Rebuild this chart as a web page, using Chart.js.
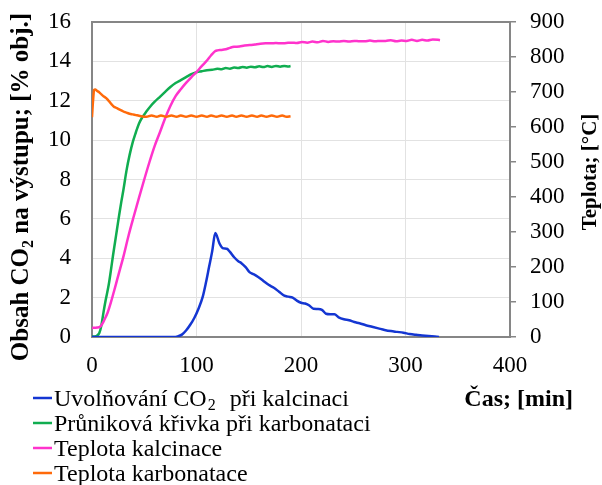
<!DOCTYPE html>
<html>
<head>
<meta charset="utf-8">
<script src="https://cdn.jsdelivr.net/npm/chart.js@4.4.1/dist/chart.umd.min.js"></script>
<style>
  html, body { margin: 0; padding: 0; background: #fff; }
  #wrap { width: 602px; height: 485px; position: relative; }
</style>
</head>
<body>
<div id="wrap"><canvas id="graf" width="602" height="485"></canvas></div>
<script>
// osy
const xTicks = [0, 100, 200, 300, 400];
const yTicks = [0, 2, 4, 6, 8, 10, 12, 14, 16];
const y1Ticks = [0, 100, 200, 300, 400, 500, 600, 700, 800, 900];

// Uvolňování CO2 při kalcinaci [% obj.]
const co2Time = [0, 78, 82, 86, 90, 94, 98, 102, 106, 109, 112, 115, 118, 122, 125, 129, 132, 136, 140, 143, 147, 151, 155, 159, 164, 169, 174, 179, 184, 188, 192, 196, 200, 204, 208, 212, 216, 220, 224, 228, 232, 236, 241, 246, 251, 256, 262, 268, 274, 280, 286, 292, 298, 304, 310, 316, 322, 328, 332];
const co2Values = [0, 0, 0.03, 0.12, 0.33, 0.62, 0.98, 1.45, 2.05, 2.75, 3.55, 4.35, 5.28, 4.75, 4.52, 4.48, 4.32, 4.05, 3.85, 3.75, 3.55, 3.28, 3.18, 3.05, 2.85, 2.65, 2.5, 2.3, 2.1, 2.05, 2.0, 1.85, 1.74, 1.7, 1.6, 1.43, 1.42, 1.38, 1.18, 1.15, 1.15, 1.0, 0.9, 0.85, 0.76, 0.7, 0.6, 0.52, 0.44, 0.36, 0.3, 0.26, 0.22, 0.15, 0.11, 0.08, 0.05, 0.02, 0];

// Průniková křivka při karbonataci [% obj.]
const breakTime = [0, 3, 5, 7, 9, 11, 13, 16, 18, 20, 22, 24, 26, 28, 30, 33, 36, 39, 42, 45, 48, 52, 56, 60, 65, 70, 75, 80, 85, 90, 95, 100, 105, 110, 115, 120, 124, 128, 132, 136, 140, 144, 148, 152, 156, 160, 164, 168, 172, 176, 180, 184, 188, 190];
const breakValues = [0.02, 0.03, 0.08, 0.2, 0.6, 1.25, 1.85, 2.65, 3.35, 4.1, 4.8, 5.5, 6.2, 6.85, 7.45, 8.45, 9.25, 9.9, 10.4, 10.85, 11.15, 11.45, 11.72, 11.95, 12.2, 12.45, 12.7, 12.9, 13.05, 13.2, 13.35, 13.45, 13.5, 13.55, 13.57, 13.62, 13.6, 13.66, 13.63, 13.69, 13.66, 13.72, 13.68, 13.73, 13.7, 13.75, 13.71, 13.76, 13.72, 13.77, 13.73, 13.77, 13.74, 13.76];

// Teplota kalcinace [°C]
const calcTempTime = [0, 5, 8, 10, 12, 15, 18, 21, 24, 27, 30, 35, 40, 45, 50, 55, 60, 65, 70, 75, 80, 85, 90, 95, 100, 105, 110, 114, 118, 120, 124, 128, 132, 136, 141, 146, 151, 156, 161, 166, 171, 176, 181, 186, 191, 196, 201, 206, 211, 216, 221, 226, 231, 236, 241, 246, 251, 256, 261, 266, 271, 276, 281, 286, 291, 296, 301, 306, 311, 316, 321, 326, 331, 333];
const calcTempValues = [26, 27, 30, 38, 50, 70, 98, 130, 163, 196, 229, 290, 345, 398, 450, 500, 546, 585, 625, 660, 688, 708, 726, 742, 757, 774, 790, 805, 817, 819, 820, 822, 826, 829, 830, 833, 834, 836, 838, 839, 839, 840, 839, 840, 841, 840, 843, 841, 844, 842, 846, 843, 845, 844, 846, 844, 846, 845, 845, 847, 845, 846, 846, 848, 845, 847, 846, 849, 846, 849, 847, 850, 849, 848];

// Teplota karbonatace [°C]
const carbTempTime = [0, 1, 2, 3, 5, 7, 9, 11, 13, 15, 17, 19, 21, 23, 25, 27, 29, 31, 33, 36, 39, 42, 45, 47, 52, 57, 62, 66, 71, 76, 81, 85, 90, 95, 100, 105, 110, 114, 119, 124, 129, 134, 138, 143, 148, 153, 158, 162, 167, 172, 177, 182, 186, 190];
const carbTempValues = [628, 675, 706, 707, 703, 699, 693, 688, 684, 678, 671, 664, 658, 655, 652, 649, 646, 643, 641, 638, 636, 634, 632, 631, 629, 633, 629, 633, 629, 633, 629, 633, 629, 633, 629, 633, 629, 633, 629, 633, 629, 633, 629, 633, 629, 633, 629, 633, 629, 633, 629, 633, 629, 631];

const toPoints = (xs, ys) => xs.map((x, i) => ({ x: x, y: ys[i] }));

const FONT = "'Liberation Serif', 'Times New Roman', serif";
const frameColor = '#868686';

// rámeček grafu, popisky os a legenda
const extras = {
  id: 'extras',
  beforeDatasetsDraw(chart) {
    const { ctx, chartArea: a } = chart;
    ctx.save();
    ctx.strokeStyle = frameColor;
    ctx.lineWidth = 2;
    ctx.strokeRect(a.left, a.top, a.right - a.left, a.bottom - a.top);
    ctx.restore();
  },
  afterDraw(chart) {
    const ctx = chart.ctx;
    ctx.save();
    ctx.fillStyle = '#000';
    ctx.textBaseline = 'alphabetic';

    // levá osa (s dolním indexem)
    ctx.save();
    ctx.translate(28, 187);
    ctx.rotate(-Math.PI / 2);
    const big = 'bold 25px ' + FONT, small = 'bold 16px ' + FONT;
    const p1 = 'Obsah CO', p2 = '2', p3 = ' na výstupu; [% obj.]';
    ctx.font = big; const w1 = ctx.measureText(p1).width, w3 = ctx.measureText(p3).width;
    ctx.font = small; const w2 = ctx.measureText(p2).width;
    let x = -(w1 + w2 + w3) / 2;
    ctx.font = big; ctx.fillText(p1, x, 0); x += w1;
    ctx.font = small; ctx.fillText(p2, x, 5); x += w2;
    ctx.font = big; ctx.fillText(p3, x, 0);
    ctx.restore();

    // pravá osa
    ctx.save();
    ctx.translate(596, 172);
    ctx.rotate(-Math.PI / 2);
    ctx.font = 'bold 21px ' + FONT;
    ctx.textAlign = 'center';
    ctx.fillText('Teplota; [°C]', 0, 0);
    ctx.restore();

    // osa x
    ctx.font = 'bold 24px ' + FONT;
    ctx.textAlign = 'right';
    ctx.fillText('Čas; [min]', 573, 406);

    // legenda
    ctx.textAlign = 'left';
    chart.data.datasets.forEach((ds, i) => {
      const base = 406 + i * 25;
      ctx.strokeStyle = ds.borderColor;
      ctx.lineWidth = 2.5;
      ctx.beginPath();
      ctx.moveTo(33, base - 8);
      ctx.lineTo(52, base - 8);
      ctx.stroke();
      const parts = ds.legendParts || [ds.label];
      let lx = 54;
      ctx.font = '24px ' + FONT;
      ctx.fillText(parts[0], lx, base);
      if (parts.length > 1) {
        lx += ctx.measureText(parts[0]).width + 1;
        ctx.font = '16px ' + FONT;
        ctx.fillText(parts[1], lx, base + 4);
        lx += ctx.measureText(parts[1]).width + 14;
        ctx.font = '24px ' + FONT;
        ctx.fillText(parts[2], lx, base);
      }
    });
    ctx.restore();
  }
};

const lineDs = (label, pts, color, axis, order) => ({
  label: label,
  data: pts,
  borderColor: color,
  backgroundColor: color,
  borderWidth: 2.5,
  pointRadius: 0,
  cubicInterpolationMode: 'monotone',
  yAxisID: axis,
  order: order
});

const co2Ds = lineDs('Uvolňování CO₂ při kalcinaci', toPoints(co2Time, co2Values), '#1436d2', 'y', 2);
co2Ds.legendParts = ['Uvolňování CO', '2', 'při kalcinaci'];

// svislé osy: pevná šířka, bez přídavného okraje od popisků
const fitVertical = s => { s.width = 92; s.paddingTop = 8; s.paddingBottom = 8; };

new Chart(document.getElementById('graf'), {
  type: 'line',
  data: {
    datasets: [
      co2Ds,
      lineDs('Průniková křivka při karbonataci', toPoints(breakTime, breakValues), '#10ad50', 'y', 3),
      lineDs('Teplota kalcinace', toPoints(calcTempTime, calcTempValues), '#ff33cc', 'y1', 1),
      lineDs('Teplota karbonatace', toPoints(carbTempTime, carbTempValues), '#ff6a0a', 'y1', 0)
    ]
  },
  options: {
    responsive: false,
    animation: false,
    layout: { padding: { top: 22, left: 0, right: 0, bottom: 0 } },
    plugins: { legend: { display: false }, tooltip: { enabled: false } },
    scales: {
      x: {
        type: 'linear',
        min: xTicks[0], max: xTicks[xTicks.length - 1],
        afterBuildTicks: s => { s.ticks = xTicks.map(v => ({ value: v })); },
        afterFit: s => { s.height = 148; },
        grid: { color: '#e2e2e2', lineWidth: 1, drawTicks: false },
        border: { display: false },
        ticks: { color: '#000', padding: 15, maxRotation: 0, font: { family: FONT, size: 23 } }
      },
      y: {
        position: 'left',
        min: yTicks[0], max: yTicks[yTicks.length - 1],
        afterBuildTicks: s => { s.ticks = yTicks.map(v => ({ value: v })); },
        afterFit: fitVertical,
        grid: { color: '#e2e2e2', lineWidth: 1, drawTicks: false },
        border: { display: false },
        ticks: { color: '#000', padding: 21, font: { family: FONT, size: 23 } }
      },
      y1: {
        position: 'right',
        min: y1Ticks[0], max: y1Ticks[y1Ticks.length - 1],
        afterBuildTicks: s => { s.ticks = y1Ticks.map(v => ({ value: v })); },
        afterFit: fitVertical,
        grid: { drawOnChartArea: false, drawTicks: true, tickLength: 6, color: frameColor, lineWidth: 1.5 },
        border: { display: false },
        ticks: { color: '#000', padding: 14, font: { family: FONT, size: 23 } }
      }
    }
  },
  plugins: [extras]
});
</script>
</body>
</html>
